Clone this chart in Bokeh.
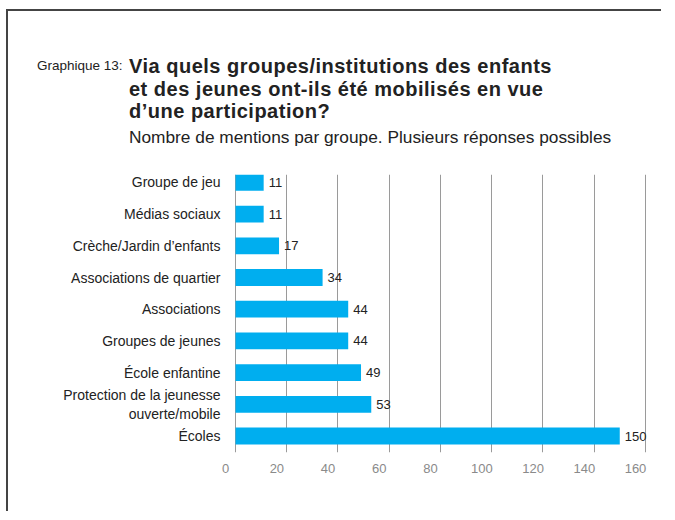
from bokeh.plotting import figure
from bokeh.models import FixedTicker, ColumnDataSource, Range1d, Div
from bokeh.layouts import column
from bokeh.core.properties import value
from bokeh.embed import file_html
from bokeh.resources import INLINE

categories = [
    "Groupe de jeu",
    "Médias sociaux",
    "Crèche/Jardin d’enfants",
    "Associations de quartier",
    "Associations",
    "Groupes de jeunes",
    "École enfantine",
    "Protection de la jeunesse\nouverte/mobile",
    "Écoles",
]
counts = [11, 11, 17, 34, 44, 44, 49, 53, 150]
x_ticks = [0, 20, 40, 60, 80, 100, 120, 140, 160]

label_text = "Graphique 13:"
title_lines = ["Via quels groupes/institutions des enfants",
               "et des jeunes ont-ils été mobilisés en vue",
               "d’une participation?"]
subtitle = "Nombre de mentions par groupe. Plusieurs réponses possibles"

FONT = "Liberation Sans"
W = 653
HEAD_H = 153

# ---------- header (titles) ----------
def span(left, top, size, text, bold=False, lh=None, ls=0):
    return ('<span style="position:absolute;white-space:nowrap;left:%spx;top:%spx;'
            'font-size:%spx;line-height:%spx;font-weight:%s;letter-spacing:%spx">%s</span>'
            % (left, top, size, lh or size, "bold" if bold else "normal", ls, text))

html = ('<div style="position:relative;width:%dpx;height:%dpx;font-family:\'%s\';color:#222222">'
        % (W, HEAD_H, FONT))
html += span(29, 47.5, 13.5, label_text)
for i, t in enumerate(title_lines):
    html += span(121, 44.3 + 22.5 * i, 20, t, bold=True, lh=22.5, ls=0.5)
html += span(121, 118, 17.3, subtitle)
html += '</div>'
head = Div(text=html, width=W, height=HEAD_H, margin=0)

# ---------- chart ----------
n = len(categories)
ypos = [n - 1 - i for i in range(n)]
src = ColumnDataSource(dict(y=ypos, v=counts, lab=[str(c) for c in counts]))

p = figure(width=W, height=347, output_backend="svg", toolbar_location=None,
           x_range=Range1d(-3.9, 162), y_range=Range1d(-0.52, n - 1 + 0.25),
           min_border_left=217, min_border_right=11, min_border_top=10, min_border_bottom=59)
p.outline_line_color = None
p.extra_x_ranges = {"lab": Range1d(-0.05, 165.85)}

p.hbar(y="y", right="v", left=0, height=0.53, source=src, color="#00AEEF", line_color=None)
p.text(x="v", y="y", text="lab", source=src, x_offset=5, text_baseline="middle",
       text_align="left", text_font=value(FONT), text_font_size="13px", text_color="#222222")

p.ygrid.grid_line_color = None
p.xgrid.ticker = FixedTicker(ticks=x_ticks)
p.xgrid.grid_line_color = "#9a9a9a"
p.xgrid.grid_line_width = 1
p.xaxis.x_range_name = "lab"
p.xaxis.ticker = FixedTicker(ticks=x_ticks)
p.xaxis.axis_line_color = None
p.xaxis.major_tick_line_color = None
p.xaxis.major_tick_out = 0
p.xaxis.major_tick_in = 0
p.xaxis.minor_tick_line_color = None
p.xaxis.major_label_text_color = "#8a8a8a"
p.xaxis.major_label_text_font = FONT
p.xaxis.major_label_text_font_size = "13px"
p.xaxis.major_label_standoff = 11

p.yaxis.ticker = FixedTicker(ticks=ypos)
p.yaxis.major_label_overrides = {y: c for y, c in zip(ypos, categories)}
p.yaxis.axis_line_color = None
p.yaxis.major_tick_line_color = None
p.yaxis.major_tick_out = 0
p.yaxis.major_tick_in = 0
p.yaxis.minor_tick_line_color = None
p.yaxis.major_label_text_color = "#222222"
p.yaxis.major_label_text_font = FONT
p.yaxis.major_label_text_font_size = "14px"
p.yaxis.major_label_text_line_height = 1.15
p.yaxis.major_label_standoff = 5

layout = column(head, p, spacing=0,
                styles={"border-top": "2px solid #444", "border-left": "2px solid #444",
                        "margin-left": "6px", "margin-top": "9px"})

open("out.html", "w").write(file_html(layout, INLINE))
